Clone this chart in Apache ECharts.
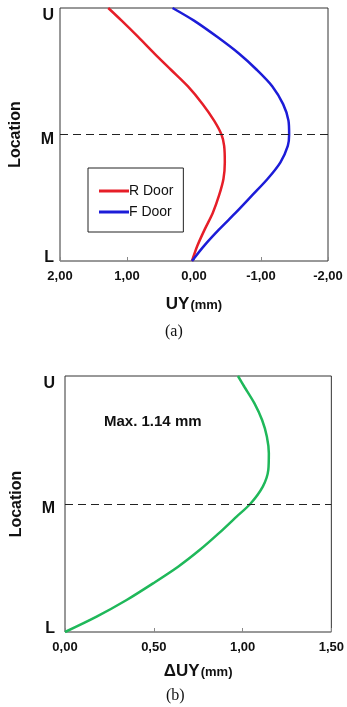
<!DOCTYPE html>
<html>
<head>
<meta charset="utf-8">
<script src="https://cdn.jsdelivr.net/npm/echarts@6/dist/echarts.min.js"></script>
<style>
  html, body { margin: 0; padding: 0; background: #fff; }
  #main { width: 347px; height: 707px; }
</style>
</head>
<body>
<div id="main"></div>
<script>
// (a) UY 분포, 위치 L=0, M=0.5, U=1 (위에서 아래로)
let locA = [1.0, 0.95, 0.885, 0.82, 0.755, 0.69, 0.62, 0.555, 0.5, 0.455, 0.39, 0.325, 0.26, 0.19, 0.125, 0.06, 0.0];
let rDoor = [1.28, 1.08, 0.83, 0.59, 0.34, 0.09, -0.13, -0.30, -0.41, -0.45, -0.46, -0.44, -0.375, -0.28, -0.16, -0.05, 0.03];
let fDoor = [0.32, 0.0, -0.35, -0.67, -0.94, -1.17, -1.33, -1.41, -1.42, -1.40, -1.29, -1.10, -0.87, -0.62, -0.375, -0.15, 0.03];
// (b) ΔUY
let locB = [1.0, 0.958, 0.893, 0.828, 0.763, 0.698, 0.633, 0.568, 0.5, 0.45, 0.386, 0.32, 0.255, 0.19, 0.125, 0.06, 0.0];
let dUY = [0.974, 1.01, 1.067, 1.11, 1.137, 1.148, 1.145, 1.114, 1.043, 0.965, 0.867, 0.758, 0.637, 0.496, 0.347, 0.178, 0.0];
let locLabels = { 0: 'L', 0.5: 'M', 1: 'U' };

function pairs(xs, ys) {
    let out = [];
    for (let i = 0; i < xs.length; i++) out.push([xs[i], ys[i]]);
    return out;
}
function fmt(v) {
    return v.toFixed(2).replace('.', ',');
}
function locFmt(v) {
    let k = locLabels[v];
    if (k === 'U') return '{u|U}';
    if (k === 'M') return '{m|M}';
    if (k === 'L') return '{l|L}';
    return '';
}
let font = 'Liberation Sans, Arial, sans-serif';
let labelRich = {
    u: { fontSize: 16, fontWeight: 'bold', color: '#111', fontFamily: font, padding: [16, 0, 0, 0] },
    m: { fontSize: 16, fontWeight: 'bold', color: '#111', fontFamily: font, padding: [10, 0, 0, 0] },
    l: { fontSize: 16, fontWeight: 'bold', color: '#111', fontFamily: font, padding: [0, 0, 6, 0] }
};
let xLabel = { fontSize: 13, fontWeight: 'bold', color: '#111', fontFamily: font, margin: 9, formatter: fmt };
let nameRich = {
    big: { fontSize: 17, fontWeight: 'bold', color: '#111', fontFamily: font },
    small: { fontSize: 13, fontWeight: 'bold', color: '#111', fontFamily: font, padding: [2, 0, 0, 1] }
};
let dashLine = {
    silent: true,
    symbol: 'none',
    label: { show: false },
    lineStyle: { type: [8, 5], color: '#222', width: 1 },
    data: [{ yAxis: 0.5 }]
};

let chart = echarts.init(document.getElementById('main'));
let option = {
    animation: false,
    backgroundColor: '#fff',
    grid: [
        { left: 58, top: 8, width: 270, height: 253, show: true, borderColor: '#333', borderWidth: 1 },
        { left: 65, top: 376, width: 267, height: 256, show: true, borderColor: '#333', borderWidth: 1 }
    ],
    xAxis: [
        {
            gridIndex: 0, type: 'value', inverse: true, min: -2, max: 2, interval: 1,
            axisLine: { show: false },
            axisTick: { show: true, inside: true, length: 4, lineStyle: { color: '#888' } },
            splitLine: { show: false },
            axisLabel: xLabel,
            name: '{big|UY}{small|(mm)}', nameLocation: 'middle', nameGap: 35,
            nameTextStyle: { rich: nameRich }
        },
        {
            gridIndex: 1, type: 'value', min: 0, max: 1.5, interval: 0.5,
            axisLine: { show: false },
            axisTick: { show: true, inside: true, length: 4, lineStyle: { color: '#888' } },
            splitLine: { show: false },
            axisLabel: xLabel,
            name: '{big|ΔUY}{small|(mm)}', nameLocation: 'middle', nameGap: 31,
            nameTextStyle: { rich: nameRich }
        }
    ],
    yAxis: [
        {
            gridIndex: 0, type: 'value', min: 0, max: 1, interval: 0.5,
            axisLine: { show: false }, axisTick: { show: false }, splitLine: { show: false },
            axisLabel: { formatter: locFmt, margin: 6, rich: labelRich },
            name: 'Location', nameLocation: 'middle', nameGap: 36, nameRotate: 90,
            nameTextStyle: { fontSize: 16, fontWeight: 'bold', color: '#111', fontFamily: font }
        },
        {
            gridIndex: 1, type: 'value', min: 0, max: 1, interval: 0.5,
            axisLine: { show: false }, axisTick: { show: false }, splitLine: { show: false },
            axisLabel: { formatter: locFmt, margin: 10, rich: labelRich },
            name: 'Location', nameLocation: 'middle', nameGap: 40, nameRotate: 90,
            nameTextStyle: { fontSize: 16, fontWeight: 'bold', color: '#111', fontFamily: font }
        }
    ],
    legend: {
        orient: 'vertical',
        left: 88, top: 168,
        padding: [16, 10, 13, 11],
        itemGap: 7,
        itemWidth: 30, itemHeight: 3,
        icon: 'rect',
        borderColor: '#222', borderWidth: 1,
        backgroundColor: '#fff',
        textStyle: { fontSize: 14, color: '#111', fontFamily: font, padding: [0, 0, 0, -5] },
        data: ['R Door', 'F Door']
    },
    graphic: [
        { type: 'text', left: 104, top: 414, style: { text: 'Max. 1.14 mm', font: 'bold 15px ' + font, fill: '#111' } },
        { type: 'text', left: 165, top: 324, style: { text: '(a)', font: '16px Liberation Serif, serif', fill: '#111' } },
        { type: 'text', left: 166, top: 688, style: { text: '(b)', font: '16px Liberation Serif, serif', fill: '#111' } }
    ],
    series: [
        {
            name: 'R Door', type: 'line', xAxisIndex: 0, yAxisIndex: 0,
            data: pairs(rDoor, locA), smooth: 0.3, symbol: 'none',
            lineStyle: { color: '#e61e28', width: 2.5 }, itemStyle: { color: '#e61e28' },
            markLine: dashLine
        },
        {
            name: 'F Door', type: 'line', xAxisIndex: 0, yAxisIndex: 0,
            data: pairs(fDoor, locA), smooth: 0.3, symbol: 'none',
            lineStyle: { color: '#1c1cd8', width: 2.5 }, itemStyle: { color: '#1c1cd8' }
        },
        {
            name: 'dUY', type: 'line', xAxisIndex: 1, yAxisIndex: 1,
            data: pairs(dUY, locB), smooth: 0.3, symbol: 'none',
            lineStyle: { color: '#1fb85a', width: 2.5 }, itemStyle: { color: '#1fb85a' },
            markLine: dashLine
        }
    ]
};
chart.setOption(option);
window.onresize = chart.resize;
</script>
</body>
</html>
